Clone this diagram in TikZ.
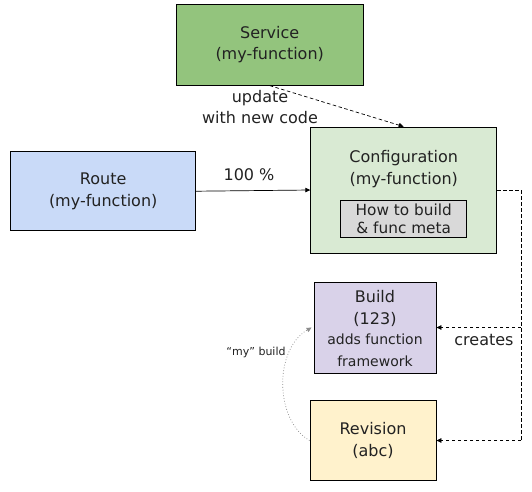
\documentclass[tikz,border=0pt]{standalone}
\usepackage{fontspec}
\setmainfont{DejaVu Sans}
\usetikzlibrary{arrows.meta}
\definecolor{svcgreen}{HTML}{93C47D}
\definecolor{cfggreen}{HTML}{D9EAD3}
\definecolor{metagrey}{HTML}{D9D9D9}
\definecolor{routeblue}{HTML}{C9DAF8}
\definecolor{buildpurple}{HTML}{D9D2E9}
\definecolor{revyellow}{HTML}{FFF2CC}
\definecolor{txt}{HTML}{222222}
\newcommand{\smallsz}{\fontsize{14}{19}\selectfont}
\tikzset{
  box/.style={draw=black, line width=0.8pt, rectangle, inner sep=0pt, align=center, text=txt},
  big/.style={font=\fontsize{16}{21.5}\selectfont},
  mid/.style={font=\fontsize{15.3}{18}\selectfont},
  lbl/.style={text=txt, align=center, inner sep=0pt},
  conn/.style={draw=black, line width=0.7pt, -{Triangle[length=5pt,width=4.5pt]}},
  dconn/.style={conn, dash pattern=on 3.5pt off 2.5pt},
  dline/.style={draw=black, line width=0.7pt, dash pattern=on 3.5pt off 2.5pt},
  gconn/.style={draw=black!45, line width=0.7pt, dash pattern=on 0.8pt off 2pt, -{Triangle[length=5pt,width=4.5pt]}}
}
\begin{document}
\begin{tikzpicture}[x=1pt,y=-1pt]
\useasboundingbox (0,0) rectangle (532,491);
\fill[white] (0,0) rectangle (532,491);
% boxes
\node[box, big, fill=svcgreen, minimum width=187pt, minimum height=81pt] (service) at (269.7,44.7) {Service\\(my-function)};
\node[box, fill=cfggreen, minimum width=186pt, minimum height=126pt] (config) at (403.7,190) {};
\node[lbl, big] (conftext) at (403.7,169) {Configuration\\(my-function)};
\node[box, mid, fill=metagrey, minimum width=126pt, minimum height=36.6pt] (meta) at (403.7,219) {How to build\\\& func meta};
\node[box, big, fill=routeblue, minimum width=185pt, minimum height=79pt] (route) at (103.2,191.2) {Route\\(my-function)};
\node[box, fill=buildpurple, minimum width=122pt, minimum height=91pt] (build) at (375,327.5) {};
\node[lbl, big] (buildtext) at (375,328.5) {Build\\ (123)\\[-1pt] \smallsz adds function\\ \smallsz framework};
\node[box, big, fill=revyellow, minimum width=126pt, minimum height=80pt] (revision) at (373,440.5) {Revision\\(abc)};
% labels
\node[lbl, big] (updlbl) at (260,107) {update\\with new code};
\node[lbl, big] (pctlbl) at (249,175) {100 \%};
\node[lbl, big] (crlbl) at (484,340) {creates};
\node[lbl, font=\fontsize{11}{13}\selectfont] (mylbl) at (256,352) {“my” build};
% connectors
\coordinate (cr) at (521,190);
\draw[conn] (route.east) -- (config.west);
\draw[dconn] (service.south) -- (config.north);
\draw[dline] (config.east) -- (cr) -- (cr |- revision.east);
\draw[dconn] (cr |- build.east) -- (build.east);
\draw[dconn] (cr |- revision.east) -- (revision.east);
\draw[gconn] (revision.west) .. controls +(-35,-20) and +(-38,22) .. ([xshift=-2pt]build.west);
\end{tikzpicture}
\end{document}
